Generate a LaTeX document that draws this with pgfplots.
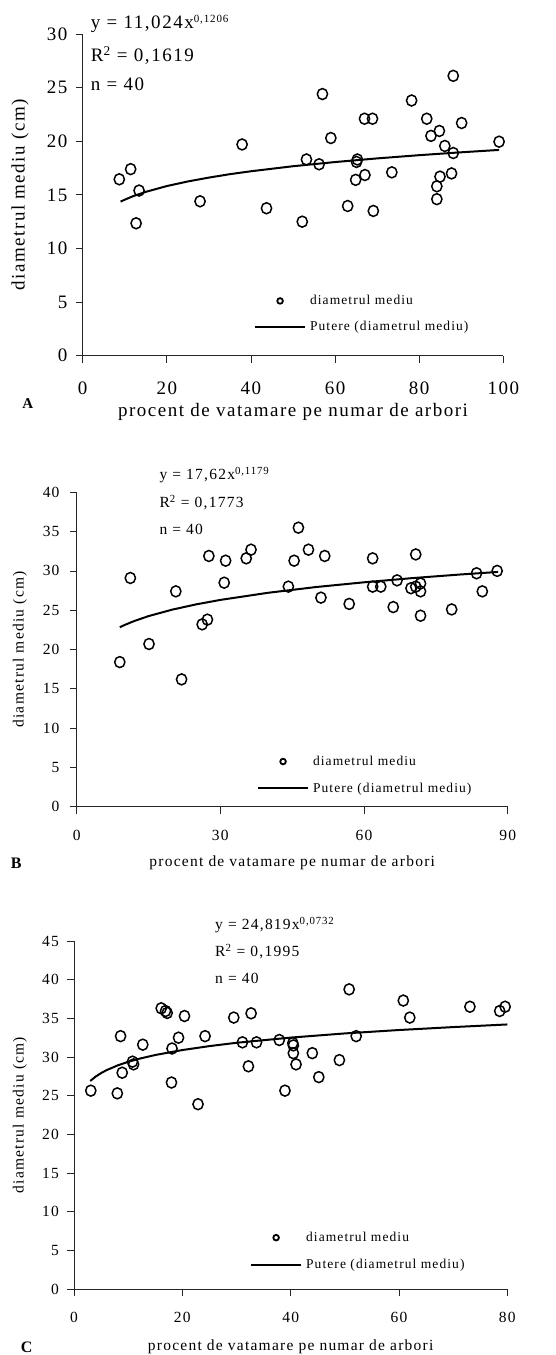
\documentclass[border=0pt]{standalone}
\usepackage{fontspec}
\setmainfont{Liberation Serif}[LetterSpace=8]
\usepackage{pgfplots}
\pgfplotsset{compat=1.18}

\newcommand\fA{\fontsize{19}{22}\selectfont}
\newcommand\fB{\fontsize{15.5}{18}\selectfont}
\newcommand\fL{\fontsize{13.5}{16}\selectfont}

\pgfplotsset{
 panel/.style={
  scale only axis, axis lines=left, axis line style={-, line width=0.8pt, black!85},
  tick align=outside, major tick length=7pt, tick style={line width=0.8pt, black!85},
  /pgf/number format/assume math mode=true,
  clip=false,
  xticklabel style={inner sep=0pt, anchor=north},
  yticklabel style={inner sep=0pt, anchor=east},
  legend cell align=left,
 },
 dots/.style={only marks, mark=o, mark size=5.5pt, mark options={line width=1.5pt, black, xscale=0.93}, forget plot},
 trend/.style={no marks, line width=2pt, black, forget plot},
 legmark/.style={legend image code/.code={\draw[##1, line width=1.8pt, mark size=2.8pt] plot coordinates {(25pt,0pt)};}},
 legline/.style={legend image code/.code={\draw[##1, line width=2pt] (0pt,0pt) -- (50pt,0pt);}},
}

\begin{document}
\begin{tikzpicture}
\useasboundingbox (0pt,0pt) rectangle (555pt,-1355pt);

% ---------------- Panel A ----------------
\begin{axis}[panel,
  at={(82.7pt,-355.7pt)}, anchor=south west,
  width=420.6pt, height=321.7pt,
  xmin=0, xmax=100, ymin=0, ymax=30,
  xtick={0,20,40,60,80,100}, ytick={0,5,10,15,20,25,30},
  tick label style={font=\fA},
  xticklabel style={yshift=-19pt},
  yticklabel style={xshift=-8pt},
  xlabel={procent de vatamare pe numar de arbori},
  ylabel={diametrul mediu (cm)},
  label style={font=\fA},
  xlabel style={at={(axis description cs:0.5,-0.175)}, anchor=center},
  ylabel style={at={(axis description cs:-0.149,0.5)}, anchor=center},
  legend style={draw=none, fill=none, font=\fL, at={(axis description cs:0.407,0.13)}, anchor=west, inner sep=0pt, row sep=13pt, nodes={inner sep=1pt}, column sep=3pt},
]
\addplot[dots] coordinates {
(8.7,16.45) (11.4,17.4) (13.4,15.4) (12.7,12.35) (27.9,14.4) (37.9,19.7)
(43.7,13.75) (52.2,12.5) (53.2,18.3) (56.2,17.85) (57,24.4) (59,20.3)
(63,13.96) (64.9,16.4) (65.1,18.07) (65.3,18.3) (67,22.1) (68.9,22.1)
(67.1,16.85) (69.1,13.5) (73.5,17.1) (78.2,23.8) (81.8,22.1) (82.8,20.5)
(84.8,20.96) (86.1,19.56) (88.1,26.1) (88.1,18.9) (90.1,21.7) (99,19.96)
(87.7,17.0) (84.95,16.7) (84.2,15.8) (84.2,14.6)
};
\addplot[trend] coordinates {
(9,14.37) (10,14.55) (12,14.88) (15,15.28) (20,15.82) (25,16.25) (30,16.61)
(35,16.93) (40,17.20) (50,17.67) (60,18.06) (70,18.40) (80,18.70) (90,18.97) (99,19.19)
};
\addlegendimage{legmark, only marks, mark=o, black}
\addlegendimage{legline, black}
\legend{diametrul mediu, Putere (diametrul mediu)}
\end{axis}

% ---------------- Panel B ----------------
\begin{axis}[panel,
  at={(76.7pt,-806.7pt)}, anchor=south west,
  width=431pt, height=314.4pt,
  xmin=0, xmax=90, ymin=0, ymax=40,
  xtick={0,30,60,90}, ytick={0,5,10,15,20,25,30,35,40},
  tick label style={font=\fB},
  xticklabel style={yshift=-16pt},
  yticklabel style={xshift=-10pt},
  xlabel={procent de vatamare pe numar de arbori},
  ylabel={diametrul mediu (cm)},
  label style={font=\fB},
  xlabel style={at={(axis description cs:0.5,-0.1775)}, anchor=center},
  ylabel style={at={(axis description cs:-0.1316,0.5)}, anchor=center},
  legend style={draw=none, fill=none, font=\fL, at={(axis description cs:0.418,0.101)}, anchor=west, inner sep=0pt, row sep=14pt, nodes={inner sep=1pt}, column sep=3pt},
]
\addplot[dots] coordinates {
(11.2,29.1) (20.7,27.4) (15.1,20.7) (9.0,18.4) (21.9,16.2) (26.2,23.2)
(27.3,23.8) (27.6,31.9) (30.8,28.5) (31.1,31.3) (35.4,31.6) (36.4,32.7)
(44.2,28.0) (45.4,31.3) (46.3,35.5) (48.4,32.7) (51.8,31.9) (51.0,26.6)
(56.9,25.8) (61.8,31.6) (61.8,28.0) (63.5,28.0) (66.1,25.4) (66.9,28.8)
(69.8,27.8) (70.8,28.0) (70.8,32.1) (71.8,28.4) (71.8,27.4) (71.8,24.3)
(78.3,25.1) (83.5,29.7) (84.7,27.4) (87.8,30.0)
};
\addplot[trend] coordinates {
(9,22.83) (10,23.12) (12,23.62) (15,24.25) (20,25.08) (25,25.75) (30,26.31)
(40,27.22) (50,27.95) (60,28.55) (70,29.08) (80,29.54) (88,29.87)
};
\addlegendimage{legmark, only marks, mark=o, black}
\addlegendimage{legline, black}
\legend{diametrul mediu, Putere (diametrul mediu)}
\end{axis}

% ---------------- Panel C ----------------
\begin{axis}[panel,
  at={(74pt,-1289pt)}, anchor=south west,
  width=433.3pt, height=348pt,
  xmin=0, xmax=80, ymin=0, ymax=45,
  xtick={0,20,40,60,80}, ytick={0,5,10,15,20,25,30,35,40,45},
  tick label style={font=\fB},
  xticklabel style={yshift=-16pt},
  yticklabel style={xshift=-8pt},
  xlabel={procent de vatamare pe numar de arbori},
  ylabel={diametrul mediu (cm)},
  label style={font=\fB},
  xlabel style={at={(axis description cs:0.5,-0.165)}, anchor=center},
  ylabel style={at={(axis description cs:-0.1246,0.5)}, anchor=center},
  legend style={draw=none, fill=none, font=\fL, at={(axis description cs:0.406,0.109)}, anchor=west, inner sep=0pt, row sep=14pt, nodes={inner sep=1pt}, column sep=3pt},
]
\addplot[dots] coordinates {
(8.6,32.7) (8.9,27.97) (10.8,29.4) (11.0,29.05) (12.7,31.6) (16.1,36.3)
(16.9,35.95) (17.2,35.7) (18.1,31.1) (19.3,32.5) (20.4,35.3) (24.2,32.7)
(29.5,35.1) (32.7,35.65) (31.1,31.9) (33.7,31.9) (32.2,28.8) (37.9,32.2)
(40.4,31.8) (40.5,31.5) (40.5,30.5) (41.0,29.05) (44.0,30.5) (49.0,29.6)
(50.8,38.75) (52.1,32.7) (60.8,37.3) (62.0,35.1) (73.1,36.5) (78.6,35.95)
(79.6,36.5) (3.1,25.65) (8.0,25.3) (18.0,26.7) (22.9,23.9) (38.95,25.65)
(45.2,27.4)
};
\addplot[trend] coordinates {
(3,26.90) (4,27.47) (5,27.92) (6,28.30) (8,28.90) (10,29.38) (12,29.77) (15,30.26)
(20,30.90) (25,31.41) (30,31.84) (40,32.51) (50,33.05) (60,33.49) (70,33.87) (80,34.21)
};
\addlegendimage{legmark, only marks, mark=o, black}
\addlegendimage{legline, black}
\legend{diametrul mediu, Putere (diametrul mediu)}
\end{axis}

% ---------------- Annotations ----------------
\node[anchor=base west, inner sep=0pt, font=\fA] at (90.7pt,-28.3pt) {y = 11,024x\textsuperscript{\fontsize{11}{12}\selectfont 0,1206}};
\node[anchor=base west, inner sep=0pt, font=\fA] at (90.7pt,-61.7pt) {R\textsuperscript{2} = 0,1619};
\node[anchor=base west, inner sep=0pt, font=\fA] at (90.7pt,-90.7pt) {n = 40};

\node[anchor=base west, inner sep=0pt, font=\fB] at (159.3pt,-479.3pt) {y = 17,62x\textsuperscript{0,1179}};
\node[anchor=base west, inner sep=0pt, font=\fB] at (159.3pt,-507.7pt) {R\textsuperscript{2} = 0,1773};
\node[anchor=base west, inner sep=0pt, font=\fB] at (159.3pt,-534.3pt) {n = 40};

\node[anchor=base west, inner sep=0pt, font=\fB] at (215pt,-929.3pt) {y = 24,819x\textsuperscript{0,0732}};
\node[anchor=base west, inner sep=0pt, font=\fB] at (215pt,-956.7pt) {R\textsuperscript{2} = 0,1995};
\node[anchor=base west, inner sep=0pt, font=\fB] at (215pt,-983.3pt) {n = 40};

\node[font=\fontsize{15}{17}\selectfont\bfseries] at (27.7pt,-404pt) {A};
\node[font=\fontsize{16}{18}\selectfont\bfseries] at (16.3pt,-863pt) {B};
\node[font=\fontsize{16}{18}\selectfont\bfseries] at (26.7pt,-1347pt) {C};
\end{tikzpicture}
\end{document}
